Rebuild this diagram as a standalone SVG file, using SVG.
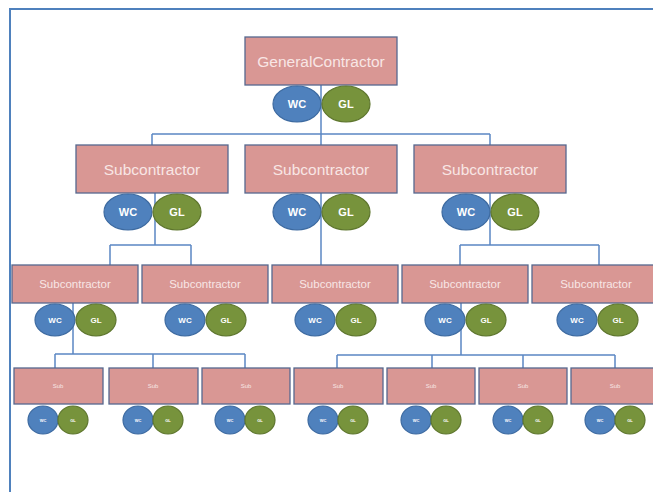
<svg xmlns="http://www.w3.org/2000/svg" width="653" height="492" viewBox="0 0 653 492">
<style>
.box{fill:#d99794;stroke:#56688f;stroke-width:1.3}
.wc{fill:#4f81bd;stroke:#3d6aa0;stroke-width:1.2}
.gl{fill:#77933c;stroke:#5e762e;stroke-width:1.2}
.con{fill:none;stroke:#5b87c3;stroke-width:1.5}
.t{font-family:"Liberation Sans",Arial,sans-serif;fill:#f8e6e5;text-anchor:middle;dominant-baseline:central}
.ct{font-family:"Liberation Sans",Arial,sans-serif;fill:#ffffff;text-anchor:middle;dominant-baseline:central;font-weight:bold}
.l1{font-size:15.5px}.l3{font-size:11.5px}.l4{font-size:6px}
.c1{font-size:11px}.c3{font-size:8px}.c4{font-size:4px}
</style>
<rect width="653" height="492" fill="#ffffff"/>
<path d="M10 492 V9 H653" fill="none" stroke="#4f81bd" stroke-width="2"/>
<g id="connectors">
<path class="con" d="M321 85 V134 M152 134 H490 M152 134 V145 M321 134 V145 M490 134 V145"/>
<path class="con" d="M155 193 V245 M110 245 H191 M110 245 V265 M191 245 V265"/>
<path class="con" d="M321 193 V265"/>
<path class="con" d="M490 193 V245 M460 245 H599 M460 245 V265 M599 245 V265"/>
<path class="con" d="M73 303 V354 M55 354 H245 M55 354 V368 M153 354 V368 M245 354 V368"/>
<path class="con" d="M461 303 V355 M337 355 H615 M337 355 V368 M432 355 V368 M523 355 V368 M615 355 V368"/>
</g>
<g id="gc">
<rect class="box" x="245" y="37" width="152" height="48"/>
<text class="t l1" x="321" y="61">GeneralContractor</text>
<ellipse class="wc" cx="297" cy="104" rx="24" ry="18"/><text class="ct c1" x="297" y="104">WC</text>
<ellipse class="gl" cx="346" cy="104" rx="24" ry="18"/><text class="ct c1" x="346" y="104">GL</text>
</g>
<g id="s1">
<rect class="box" x="76" y="145" width="152" height="48"/>
<text class="t l1" x="152" y="169">Subcontractor</text>
<ellipse class="wc" cx="128" cy="212" rx="24" ry="18"/><text class="ct c1" x="128" y="212">WC</text>
<ellipse class="gl" cx="177" cy="212" rx="24" ry="18"/><text class="ct c1" x="177" y="212">GL</text>
</g>
<g id="s2">
<rect class="box" x="245" y="145" width="152" height="48"/>
<text class="t l1" x="321" y="169">Subcontractor</text>
<ellipse class="wc" cx="297" cy="212" rx="24" ry="18"/><text class="ct c1" x="297" y="212">WC</text>
<ellipse class="gl" cx="346" cy="212" rx="24" ry="18"/><text class="ct c1" x="346" y="212">GL</text>
</g>
<g id="s3">
<rect class="box" x="414" y="145" width="152" height="48"/>
<text class="t l1" x="490" y="169">Subcontractor</text>
<ellipse class="wc" cx="466" cy="212" rx="24" ry="18"/><text class="ct c1" x="466" y="212">WC</text>
<ellipse class="gl" cx="515" cy="212" rx="24" ry="18"/><text class="ct c1" x="515" y="212">GL</text>
</g>
<g id="s11">
<rect class="box" x="12" y="265" width="126" height="38"/>
<text class="t l3" x="75" y="284">Subcontractor</text>
<ellipse class="wc" cx="55" cy="320" rx="20" ry="16"/><text class="ct c3" x="55" y="320">WC</text>
<ellipse class="gl" cx="96" cy="320" rx="20" ry="16"/><text class="ct c3" x="96" y="320">GL</text>
</g>
<g id="s12">
<rect class="box" x="142" y="265" width="126" height="38"/>
<text class="t l3" x="205" y="284">Subcontractor</text>
<ellipse class="wc" cx="185" cy="320" rx="20" ry="16"/><text class="ct c3" x="185" y="320">WC</text>
<ellipse class="gl" cx="226" cy="320" rx="20" ry="16"/><text class="ct c3" x="226" y="320">GL</text>
</g>
<g id="s21">
<rect class="box" x="272" y="265" width="126" height="38"/>
<text class="t l3" x="335" y="284">Subcontractor</text>
<ellipse class="wc" cx="315" cy="320" rx="20" ry="16"/><text class="ct c3" x="315" y="320">WC</text>
<ellipse class="gl" cx="356" cy="320" rx="20" ry="16"/><text class="ct c3" x="356" y="320">GL</text>
</g>
<g id="s31">
<rect class="box" x="402" y="265" width="126" height="38"/>
<text class="t l3" x="465" y="284">Subcontractor</text>
<ellipse class="wc" cx="445" cy="320" rx="20" ry="16"/><text class="ct c3" x="445" y="320">WC</text>
<ellipse class="gl" cx="486" cy="320" rx="20" ry="16"/><text class="ct c3" x="486" y="320">GL</text>
</g>
<g id="s32">
<rect class="box" x="532" y="265" width="126" height="38"/>
<text class="t l3" x="596" y="284">Subcontractor</text>
<ellipse class="wc" cx="577" cy="320" rx="20" ry="16"/><text class="ct c3" x="577" y="320">WC</text>
<ellipse class="gl" cx="618" cy="320" rx="20" ry="16"/><text class="ct c3" x="618" y="320">GL</text>
</g>
<g id="u1"><rect class="box" x="14" y="368" width="89" height="36"/><text class="t l4" x="58" y="386">Sub</text>
<ellipse class="wc" cx="43" cy="420" rx="15" ry="14"/><text class="ct c4" x="43" y="420">WC</text>
<ellipse class="gl" cx="73" cy="420" rx="15" ry="14"/><text class="ct c4" x="73" y="420">GL</text></g>
<g id="u2"><rect class="box" x="109" y="368" width="89" height="36"/><text class="t l4" x="153" y="386">Sub</text>
<ellipse class="wc" cx="138" cy="420" rx="15" ry="14"/><text class="ct c4" x="138" y="420">WC</text>
<ellipse class="gl" cx="168" cy="420" rx="15" ry="14"/><text class="ct c4" x="168" y="420">GL</text></g>
<g id="u3"><rect class="box" x="202" y="368" width="88" height="36"/><text class="t l4" x="246" y="386">Sub</text>
<ellipse class="wc" cx="230" cy="420" rx="15" ry="14"/><text class="ct c4" x="230" y="420">WC</text>
<ellipse class="gl" cx="260" cy="420" rx="15" ry="14"/><text class="ct c4" x="260" y="420">GL</text></g>
<g id="u4"><rect class="box" x="294" y="368" width="89" height="36"/><text class="t l4" x="338" y="386">Sub</text>
<ellipse class="wc" cx="323" cy="420" rx="15" ry="14"/><text class="ct c4" x="323" y="420">WC</text>
<ellipse class="gl" cx="353" cy="420" rx="15" ry="14"/><text class="ct c4" x="353" y="420">GL</text></g>
<g id="u5"><rect class="box" x="387" y="368" width="88" height="36"/><text class="t l4" x="431" y="386">Sub</text>
<ellipse class="wc" cx="416" cy="420" rx="15" ry="14"/><text class="ct c4" x="416" y="420">WC</text>
<ellipse class="gl" cx="446" cy="420" rx="15" ry="14"/><text class="ct c4" x="446" y="420">GL</text></g>
<g id="u6"><rect class="box" x="479" y="368" width="88" height="36"/><text class="t l4" x="523" y="386">Sub</text>
<ellipse class="wc" cx="508" cy="420" rx="15" ry="14"/><text class="ct c4" x="508" y="420">WC</text>
<ellipse class="gl" cx="538" cy="420" rx="15" ry="14"/><text class="ct c4" x="538" y="420">GL</text></g>
<g id="u7"><rect class="box" x="571" y="368" width="89" height="36"/><text class="t l4" x="615" y="386">Sub</text>
<ellipse class="wc" cx="600" cy="420" rx="15" ry="14"/><text class="ct c4" x="600" y="420">WC</text>
<ellipse class="gl" cx="630" cy="420" rx="15" ry="14"/><text class="ct c4" x="630" y="420">GL</text></g>
</svg>
